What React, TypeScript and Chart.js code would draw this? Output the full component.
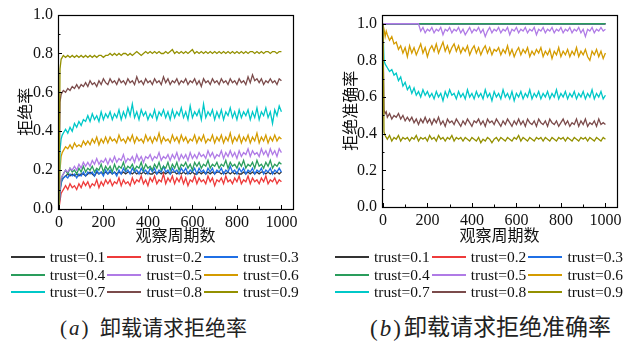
import React, { useEffect, useRef } from "react";
import { Chart, registerables } from "chart.js";

Chart.register(...registerables);

// ---- data ----
const PERIODS = [
  0, 5, 10, 15,
  20, 30, 40, 50, 60, 70, 80, 90, 100, 110,
  120, 130, 140, 150, 160, 170, 180, 190, 200, 210,
  220, 230, 240, 250, 260, 270, 280, 290, 300, 310,
  320, 330, 340, 350, 360, 370, 380, 390, 400, 410,
  420, 430, 440, 450, 460, 470, 480, 490, 500, 510,
  520, 530, 540, 550, 560, 570, 580, 590, 600, 610,
  620, 630, 640, 650, 660, 670, 680, 690, 700, 710,
  720, 730, 740, 750, 760, 770, 780, 790, 800, 810,
  820, 830, 840, 850, 860, 870, 880, 890, 900, 910,
  920, 930, 940, 950, 960, 970, 980, 990, 1000,
];

const LEGEND_LABELS = [
  "trust=0.1", "trust=0.2", "trust=0.3",
  "trust=0.4", "trust=0.5", "trust=0.6",
  "trust=0.7", "trust=0.8", "trust=0.9",
];

const X_TITLE = "观察周期数";
const Y_TITLE_A = "拒绝率";
const Y_TITLE_B = "拒绝准确率";
const CAPTION_A_TAG = "a";
const CAPTION_A = "卸载请求拒绝率";
const CAPTION_B_TAG = "b";
const CAPTION_B = "卸载请求拒绝准确率";

// (a) rejection rate
const REJ_T01 = [
  0, 0.10, 0.14, 0.15,
  0.16, 0.17, 0.18, 0.17, 0.18, 0.17, 0.18, 0.17, 0.18, 0.18,
  0.17, 0.18, 0.19, 0.18, 0.17, 0.19, 0.18, 0.19, 0.18, 0.19,
  0.18, 0.19, 0.18, 0.19, 0.18, 0.19, 0.18, 0.19, 0.18, 0.19,
  0.19, 0.18, 0.19, 0.18, 0.19, 0.18, 0.19, 0.18, 0.19, 0.18,
  0.18, 0.19, 0.18, 0.19, 0.18, 0.19, 0.18, 0.19, 0.18, 0.19,
  0.19, 0.18, 0.19, 0.18, 0.19, 0.18, 0.19, 0.18, 0.19, 0.18,
  0.18, 0.19, 0.18, 0.19, 0.18, 0.19, 0.18, 0.19, 0.18, 0.19,
  0.19, 0.18, 0.19, 0.18, 0.19, 0.18, 0.19, 0.18, 0.19, 0.18,
  0.18, 0.19, 0.18, 0.19, 0.18, 0.19, 0.18, 0.19, 0.18, 0.19,
  0.19, 0.18, 0.19, 0.18, 0.19, 0.18, 0.19, 0.18, 0.19,
];
const REJ_T02 = [
  0, 0.04, 0.08, 0.09,
  0.10, 0.12, 0.10, 0.13, 0.11, 0.12, 0.10, 0.13, 0.11, 0.14,
  0.12, 0.14, 0.11, 0.13, 0.12, 0.15, 0.11, 0.14, 0.12, 0.15,
  0.13, 0.15, 0.12, 0.14, 0.13, 0.16, 0.12, 0.15, 0.13, 0.14,
  0.12, 0.16, 0.13, 0.15, 0.14, 0.17, 0.13, 0.15, 0.12, 0.16,
  0.14, 0.17, 0.13, 0.15, 0.14, 0.18, 0.13, 0.16, 0.14, 0.17,
  0.13, 0.16, 0.14, 0.17, 0.13, 0.16, 0.12, 0.15, 0.14, 0.17,
  0.13, 0.16, 0.14, 0.15, 0.13, 0.17, 0.14, 0.16, 0.12, 0.15,
  0.14, 0.16, 0.13, 0.17, 0.14, 0.15, 0.13, 0.16, 0.14, 0.17,
  0.13, 0.15, 0.14, 0.17, 0.13, 0.16, 0.14, 0.15, 0.13, 0.16,
  0.14, 0.17, 0.13, 0.15, 0.14, 0.16, 0.13, 0.15, 0.14,
];
const REJ_T03 = [
  0, 0.08, 0.13, 0.15,
  0.16, 0.17, 0.16, 0.18, 0.17, 0.18, 0.16, 0.18, 0.17, 0.19,
  0.17, 0.19, 0.18, 0.19, 0.17, 0.20, 0.18, 0.19, 0.17, 0.20,
  0.18, 0.20, 0.18, 0.19, 0.17, 0.20, 0.18, 0.21, 0.19, 0.20,
  0.18, 0.21, 0.19, 0.20, 0.18, 0.21, 0.19, 0.20, 0.18, 0.21,
  0.19, 0.21, 0.18, 0.20, 0.19, 0.22, 0.19, 0.20, 0.18, 0.21,
  0.19, 0.20, 0.18, 0.21, 0.19, 0.21, 0.18, 0.20, 0.19, 0.21,
  0.18, 0.21, 0.19, 0.20, 0.18, 0.21, 0.19, 0.21, 0.18, 0.20,
  0.19, 0.21, 0.18, 0.20, 0.19, 0.22, 0.19, 0.20, 0.18, 0.21,
  0.19, 0.21, 0.18, 0.20, 0.19, 0.21, 0.18, 0.20, 0.19, 0.21,
  0.18, 0.20, 0.19, 0.21, 0.18, 0.20, 0.19, 0.21, 0.19,
];
const REJ_T04 = [
  0, 0.09, 0.15, 0.17,
  0.18, 0.20, 0.18, 0.21, 0.19, 0.20, 0.18, 0.21, 0.19, 0.22,
  0.19, 0.21, 0.20, 0.22, 0.19, 0.21, 0.20, 0.23, 0.19, 0.22,
  0.20, 0.22, 0.19, 0.23, 0.20, 0.22, 0.21, 0.24, 0.20, 0.22,
  0.21, 0.23, 0.20, 0.22, 0.21, 0.24, 0.20, 0.23, 0.21, 0.22,
  0.20, 0.23, 0.21, 0.24, 0.20, 0.22, 0.21, 0.24, 0.20, 0.23,
  0.21, 0.24, 0.20, 0.23, 0.22, 0.24, 0.21, 0.23, 0.20, 0.24,
  0.22, 0.24, 0.21, 0.23, 0.22, 0.25, 0.21, 0.23, 0.22, 0.24,
  0.21, 0.23, 0.22, 0.25, 0.21, 0.24, 0.22, 0.23, 0.21, 0.24,
  0.22, 0.25, 0.21, 0.23, 0.22, 0.24, 0.21, 0.25, 0.22, 0.23,
  0.21, 0.24, 0.22, 0.25, 0.21, 0.23, 0.22, 0.24, 0.23,
];
const REJ_T05 = [
  0, 0.11, 0.16, 0.17,
  0.18, 0.20, 0.19, 0.21, 0.20, 0.22, 0.20, 0.23, 0.21, 0.24,
  0.22, 0.24, 0.22, 0.25, 0.23, 0.26, 0.23, 0.25, 0.24, 0.26,
  0.23, 0.26, 0.24, 0.27, 0.24, 0.26, 0.25, 0.28, 0.24, 0.26,
  0.25, 0.27, 0.24, 0.28, 0.25, 0.27, 0.24, 0.27, 0.26, 0.28,
  0.25, 0.27, 0.26, 0.29, 0.25, 0.27, 0.26, 0.28, 0.25, 0.28,
  0.26, 0.29, 0.25, 0.28, 0.26, 0.28, 0.25, 0.29, 0.26, 0.28,
  0.26, 0.29, 0.27, 0.28, 0.26, 0.30, 0.27, 0.29, 0.26, 0.28,
  0.27, 0.30, 0.26, 0.29, 0.27, 0.30, 0.27, 0.29, 0.26, 0.30,
  0.27, 0.29, 0.28, 0.31, 0.27, 0.30, 0.28, 0.29, 0.27, 0.31,
  0.28, 0.30, 0.27, 0.31, 0.28, 0.30, 0.27, 0.31, 0.29,
];
const REJ_T06 = [
  0, 0.20, 0.27, 0.29,
  0.30, 0.32, 0.31, 0.33, 0.31, 0.34, 0.32, 0.33, 0.32, 0.35,
  0.33, 0.35, 0.33, 0.36, 0.34, 0.37, 0.33, 0.36, 0.34, 0.37,
  0.34, 0.37, 0.35, 0.36, 0.34, 0.38, 0.35, 0.36, 0.34, 0.37,
  0.35, 0.38, 0.34, 0.37, 0.35, 0.36, 0.34, 0.38, 0.35, 0.37,
  0.34, 0.37, 0.35, 0.39, 0.34, 0.37, 0.35, 0.36, 0.34, 0.38,
  0.35, 0.37, 0.34, 0.38, 0.35, 0.37, 0.34, 0.36, 0.35, 0.38,
  0.34, 0.37, 0.35, 0.38, 0.34, 0.36, 0.35, 0.38, 0.34, 0.37,
  0.35, 0.38, 0.34, 0.37, 0.35, 0.39, 0.34, 0.37, 0.35, 0.38,
  0.34, 0.37, 0.35, 0.38, 0.34, 0.37, 0.35, 0.39, 0.34, 0.37,
  0.35, 0.38, 0.34, 0.37, 0.35, 0.38, 0.35, 0.37, 0.36,
];
const REJ_T07 = [
  0, 0.30, 0.36, 0.38,
  0.39, 0.41, 0.39, 0.42, 0.40, 0.44, 0.42, 0.45, 0.43, 0.46,
  0.45, 0.48, 0.45, 0.49, 0.46, 0.48, 0.45, 0.50, 0.46, 0.49,
  0.47, 0.50, 0.46, 0.49, 0.47, 0.51, 0.46, 0.50, 0.47, 0.52,
  0.48, 0.54, 0.47, 0.50, 0.46, 0.51, 0.48, 0.50, 0.46, 0.49,
  0.47, 0.51, 0.46, 0.50, 0.48, 0.51, 0.47, 0.50, 0.46, 0.51,
  0.47, 0.50, 0.48, 0.52, 0.47, 0.50, 0.46, 0.53, 0.47, 0.50,
  0.48, 0.51, 0.46, 0.54, 0.47, 0.50, 0.48, 0.51, 0.46, 0.50,
  0.47, 0.51, 0.46, 0.50, 0.48, 0.52, 0.47, 0.50, 0.46, 0.51,
  0.47, 0.50, 0.48, 0.51, 0.46, 0.50, 0.47, 0.52, 0.46, 0.50,
  0.48, 0.52, 0.47, 0.50, 0.44, 0.51, 0.48, 0.53, 0.50,
];
const REJ_T08 = [
  0, 0.55, 0.59, 0.60,
  0.61, 0.60, 0.62, 0.61, 0.63, 0.62, 0.64, 0.62, 0.64, 0.63,
  0.65, 0.63, 0.66, 0.64, 0.65, 0.63, 0.66, 0.64, 0.67, 0.65,
  0.64, 0.67, 0.65, 0.66, 0.64, 0.67, 0.65, 0.66, 0.64, 0.67,
  0.65, 0.66, 0.64, 0.68, 0.65, 0.66, 0.64, 0.67, 0.65, 0.66,
  0.64, 0.67, 0.65, 0.66, 0.64, 0.68, 0.65, 0.67, 0.64, 0.66,
  0.65, 0.67, 0.64, 0.66, 0.65, 0.67, 0.64, 0.66, 0.65, 0.67,
  0.64, 0.66, 0.63, 0.67, 0.65, 0.66, 0.64, 0.67, 0.65, 0.66,
  0.64, 0.67, 0.65, 0.66, 0.64, 0.67, 0.65, 0.66, 0.64, 0.67,
  0.65, 0.66, 0.64, 0.68, 0.65, 0.69, 0.66, 0.67, 0.65, 0.67,
  0.64, 0.66, 0.65, 0.67, 0.65, 0.66, 0.64, 0.67, 0.66,
];
const REJ_T09 = [
  0, 0.72, 0.77, 0.78,
  0.79, 0.78, 0.79, 0.78, 0.79, 0.78, 0.79, 0.78, 0.79, 0.78,
  0.79, 0.78, 0.79, 0.78, 0.79, 0.78, 0.79, 0.79, 0.78, 0.79,
  0.79, 0.80, 0.79, 0.80, 0.79, 0.80, 0.79, 0.80, 0.80, 0.79,
  0.80, 0.79, 0.80, 0.81, 0.80, 0.79, 0.80, 0.81, 0.80, 0.81,
  0.80, 0.81, 0.80, 0.81, 0.80, 0.80, 0.81, 0.80, 0.81, 0.82,
  0.80, 0.81, 0.80, 0.81, 0.80, 0.81, 0.80, 0.81, 0.82, 0.80,
  0.81, 0.80, 0.81, 0.80, 0.81, 0.80, 0.81, 0.80, 0.81, 0.80,
  0.81, 0.80, 0.81, 0.80, 0.81, 0.80, 0.81, 0.80, 0.81, 0.80,
  0.81, 0.80, 0.81, 0.80, 0.81, 0.81, 0.80, 0.81, 0.80, 0.81,
  0.80, 0.81, 0.81, 0.80, 0.81, 0.81, 0.80, 0.81, 0.81,
];

// (b) rejection accuracy
const ACC_T01 = [
  1, 1, 1, 1,
  1, 1, 1, 1, 1, 1, 1, 1, 1, 1,
  1, 1, 1, 1, 1, 1, 1, 1, 1, 1,
  1, 1, 1, 1, 1, 1, 1, 1, 1, 1,
  1, 1, 1, 1, 1, 1, 1, 1, 1, 1,
  1, 1, 1, 1, 1, 1, 1, 1, 1, 1,
  1, 1, 1, 1, 1, 1, 1, 1, 1, 1,
  1, 1, 1, 1, 1, 1, 1, 1, 1, 1,
  1, 1, 1, 1, 1, 1, 1, 1, 1, 1,
  1, 1, 1, 1, 1, 1, 1, 1, 1, 1,
  1, 1, 1, 1, 1, 1, 1, 1, 1,
];
const ACC_T02 = [
  1, 1, 1, 1,
  1, 1, 1, 1, 1, 1, 1, 1, 1, 1,
  1, 1, 1, 1, 1, 1, 1, 1, 1, 1,
  1, 1, 1, 1, 1, 1, 1, 1, 1, 1,
  1, 1, 1, 1, 1, 1, 1, 1, 1, 1,
  1, 1, 1, 1, 1, 1, 1, 1, 1, 1,
  1, 1, 1, 1, 1, 1, 1, 1, 1, 1,
  1, 1, 1, 1, 1, 1, 1, 1, 1, 1,
  1, 1, 1, 1, 1, 1, 1, 1, 1, 1,
  1, 1, 1, 1, 1, 1, 1, 1, 1, 1,
  1, 1, 1, 1, 1, 1, 1, 1, 1,
];
const ACC_T03 = [
  1, 1, 1, 1,
  1, 1, 1, 1, 1, 1, 1, 1, 1, 1,
  1, 1, 1, 1, 1, 1, 1, 1, 1, 1,
  1, 1, 1, 1, 1, 1, 1, 1, 1, 1,
  1, 1, 1, 1, 1, 1, 1, 1, 1, 1,
  1, 1, 1, 1, 1, 1, 1, 1, 1, 1,
  1, 1, 1, 1, 1, 1, 1, 1, 1, 1,
  1, 1, 1, 1, 1, 1, 1, 1, 1, 1,
  1, 1, 1, 1, 1, 1, 1, 1, 1, 1,
  1, 1, 1, 1, 1, 1, 1, 1, 1, 1,
  1, 1, 1, 1, 1, 1, 1, 1, 1,
];
const ACC_T04 = [
  1, 1, 1, 1,
  1, 1, 1, 1, 1, 1, 1, 1, 1, 1,
  1, 1, 1, 1, 1, 1, 1, 1, 1, 1,
  1, 1, 1, 1, 1, 1, 1, 1, 1, 1,
  1, 1, 1, 1, 1, 1, 1, 1, 1, 1,
  1, 1, 1, 1, 1, 1, 1, 1, 1, 1,
  1, 1, 1, 1, 1, 1, 1, 1, 1, 1,
  1, 1, 1, 1, 1, 1, 1, 1, 1, 1,
  1, 1, 1, 1, 1, 1, 1, 1, 1, 1,
  1, 1, 1, 1, 1, 1, 1, 1, 1, 1,
  1, 1, 1, 1, 1, 1, 1, 1, 1,
];
const ACC_T05 = [
  1, 1, 1, 1,
  1, 1, 1, 1, 1, 1, 1, 1, 1, 1,
  1, 1, 1, 1, 1, 0.96, 0.98, 0.95, 0.97, 0.96,
  0.98, 0.95, 0.97, 0.96, 0.98, 0.94, 0.97, 0.96, 0.98, 0.95,
  0.97, 0.96, 0.98, 0.95, 0.97, 0.94, 0.96, 0.98, 0.95, 0.97,
  0.96, 0.98, 0.95, 0.97, 0.93, 0.96, 0.98, 0.95, 0.97, 0.96,
  0.98, 0.95, 0.97, 0.96, 0.98, 0.94, 0.97, 0.96, 0.98, 0.95,
  0.97, 0.96, 0.98, 0.95, 0.97, 0.96, 0.98, 0.94, 0.97, 0.96,
  0.98, 0.95, 0.97, 0.96, 0.98, 0.95, 0.97, 0.96, 0.98, 0.95,
  0.97, 0.96, 0.98, 0.95, 0.97, 0.96, 0.98, 0.95, 0.97, 0.93,
  0.97, 0.96, 0.98, 0.95, 0.97, 0.96, 0.98, 0.96, 0.97,
];
const ACC_T06 = [
  1.0, 0.97, 0.93, 0.96,
  0.94, 0.91, 0.93, 0.89, 0.90, 0.86, 0.88, 0.84, 0.87, 0.82,
  0.88, 0.84, 0.87, 0.83, 0.86, 0.89, 0.84, 0.87, 0.82, 0.86,
  0.88, 0.85, 0.89, 0.84, 0.87, 0.90, 0.85, 0.88, 0.84, 0.87,
  0.89, 0.85, 0.88, 0.84, 0.87, 0.85, 0.88, 0.83, 0.86, 0.88,
  0.84, 0.87, 0.83, 0.86, 0.88, 0.84, 0.87, 0.83, 0.86, 0.85,
  0.87, 0.83, 0.86, 0.84, 0.88, 0.83, 0.86, 0.82, 0.85, 0.87,
  0.83, 0.86, 0.84, 0.87, 0.82, 0.85, 0.83, 0.86, 0.84, 0.87,
  0.82, 0.85, 0.83, 0.86, 0.81, 0.85, 0.83, 0.87, 0.82, 0.85,
  0.83, 0.86, 0.82, 0.85, 0.83, 0.87, 0.82, 0.85, 0.83, 0.86,
  0.82, 0.80, 0.85, 0.83, 0.86, 0.82, 0.85, 0.81, 0.84,
];
const ACC_T07 = [
  1.0, 0.80, 0.78, 0.77,
  0.76, 0.74, 0.75, 0.72, 0.73, 0.69, 0.71, 0.66, 0.68, 0.64,
  0.66, 0.62, 0.65, 0.61, 0.63, 0.60, 0.64, 0.61, 0.63, 0.60,
  0.62, 0.59, 0.63, 0.60, 0.62, 0.58, 0.63, 0.60, 0.64, 0.61,
  0.62, 0.59, 0.63, 0.60, 0.62, 0.59, 0.64, 0.60, 0.62, 0.59,
  0.63, 0.60, 0.62, 0.59, 0.64, 0.60, 0.62, 0.58, 0.63, 0.60,
  0.62, 0.59, 0.64, 0.60, 0.62, 0.59, 0.63, 0.58, 0.62, 0.60,
  0.63, 0.59, 0.62, 0.60, 0.64, 0.59, 0.62, 0.60, 0.63, 0.59,
  0.62, 0.60, 0.63, 0.59, 0.62, 0.60, 0.64, 0.59, 0.62, 0.60,
  0.63, 0.59, 0.62, 0.60, 0.63, 0.59, 0.62, 0.60, 0.63, 0.59,
  0.62, 0.60, 0.64, 0.59, 0.62, 0.60, 0.63, 0.59, 0.61,
];
const ACC_T08 = [
  1.0, 0.53, 0.51, 0.52,
  0.49, 0.51, 0.48, 0.50, 0.49, 0.51, 0.48, 0.50, 0.47, 0.49,
  0.47, 0.49, 0.46, 0.48, 0.45, 0.48, 0.46, 0.49, 0.46, 0.48,
  0.45, 0.48, 0.46, 0.49, 0.45, 0.47, 0.44, 0.48, 0.46, 0.47,
  0.45, 0.48, 0.46, 0.44, 0.47, 0.45, 0.48, 0.46, 0.44, 0.47,
  0.46, 0.48, 0.45, 0.47, 0.44, 0.48, 0.46, 0.47, 0.45, 0.48,
  0.46, 0.44, 0.47, 0.45, 0.48, 0.46, 0.44, 0.47, 0.45, 0.48,
  0.45, 0.47, 0.44, 0.48, 0.46, 0.45, 0.47, 0.44, 0.48, 0.46,
  0.45, 0.47, 0.44, 0.48, 0.46, 0.45, 0.47, 0.44, 0.46, 0.48,
  0.45, 0.47, 0.44, 0.46, 0.45, 0.48, 0.44, 0.47, 0.45, 0.48,
  0.44, 0.46, 0.45, 0.47, 0.44, 0.48, 0.45, 0.46, 0.45,
];
const ACC_T09 = [
  1.0, 0.41, 0.39, 0.38,
  0.37, 0.39, 0.36, 0.38, 0.37, 0.39, 0.36, 0.38, 0.37, 0.38,
  0.36, 0.38, 0.37, 0.39, 0.36, 0.38, 0.37, 0.38, 0.36, 0.39,
  0.37, 0.38, 0.36, 0.39, 0.37, 0.38, 0.36, 0.38, 0.37, 0.39,
  0.36, 0.38, 0.37, 0.38, 0.36, 0.38, 0.37, 0.36, 0.38, 0.37,
  0.36, 0.38, 0.35, 0.37, 0.36, 0.38, 0.37, 0.35, 0.37, 0.38,
  0.36, 0.38, 0.37, 0.36, 0.38, 0.37, 0.36, 0.38, 0.37, 0.39,
  0.36, 0.38, 0.37, 0.36, 0.38, 0.37, 0.36, 0.38, 0.37, 0.38,
  0.36, 0.38, 0.37, 0.36, 0.38, 0.37, 0.36, 0.38, 0.37, 0.38,
  0.36, 0.38, 0.37, 0.36, 0.38, 0.37, 0.36, 0.38, 0.37, 0.38,
  0.36, 0.38, 0.37, 0.36, 0.38, 0.37, 0.36, 0.38, 0.37,
];

const REJ_SERIES = [REJ_T01, REJ_T02, REJ_T03, REJ_T04, REJ_T05, REJ_T06, REJ_T07, REJ_T08, REJ_T09];
const ACC_SERIES = [ACC_T01, ACC_T02, ACC_T03, ACC_T04, ACC_T05, ACC_T06, ACC_T07, ACC_T08, ACC_T09];

// ---- styles ----
const COLORS = [
  "#333333", "#ee3b3b", "#1f6fe5",
  "#2a9d5c", "#b07be6", "#d49b00",
  "#00c8c8", "#7b4b4b", "#939000",
];
const SERIF = '"Liberation Serif", "Times New Roman", serif';
const CJK = '"Liberation Serif", "Noto Sans CJK SC", sans-serif';

const frameTicksPlugin = {
  id: "frameTicks",
  afterDatasetsDraw(chart: any) {
    const { ctx, chartArea: a } = chart;
    const xs = chart.scales.x;
    const ys = chart.scales.y;
    ctx.save();
    ctx.strokeStyle = "#000";
    ctx.lineWidth = 1;
    ctx.beginPath();
    const xt = xs.ticks.map((t: any) => t.value);
    xt.forEach((v: number, i: number) => {
      const p = Math.round(xs.getPixelForValue(v)) + 0.5;
      ctx.moveTo(p, a.bottom);
      ctx.lineTo(p, a.bottom - 4);
      if (i < xt.length - 1) {
        const m = Math.round(xs.getPixelForValue((v + xt[i + 1]) / 2)) + 0.5;
        ctx.moveTo(m, a.bottom);
        ctx.lineTo(m, a.bottom - 2.5);
      }
    });
    const yt = ys.ticks.map((t: any) => t.value);
    yt.forEach((v: number, i: number) => {
      const p = Math.round(ys.getPixelForValue(v)) + 0.5;
      ctx.moveTo(a.left, p);
      ctx.lineTo(a.left + 4, p);
      if (i < yt.length - 1) {
        const m = Math.round(ys.getPixelForValue((v + yt[i + 1]) / 2)) + 0.5;
        ctx.moveTo(a.left, m);
        ctx.lineTo(a.left + 2.5, m);
      }
    });
    ctx.stroke();
    ctx.lineWidth = 1.2;
    ctx.strokeRect(
      Math.round(a.left) + 0.5,
      Math.round(a.top) + 0.5,
      Math.round(a.right - a.left),
      Math.round(a.bottom - a.top)
    );
    ctx.restore();
  },
};

type Opts = {
  yTitle: string;
  yMax: number;
  yAxisWidth: number;
  xAxisHeight: number;
  padRight: number;
  yTitlePad: number;
};

function buildChart(canvas: HTMLCanvasElement, series: number[][], o: Opts) {
  return new Chart(canvas, {
    type: "line",
    data: {
      datasets: series.map((s, i) => ({
        label: LEGEND_LABELS[i],
        data: PERIODS.map((p, j) => ({ x: p, y: s[j] })),
        borderColor: COLORS[i],
        backgroundColor: COLORS[i],
        borderWidth: 1.3,
        pointRadius: 0,
        tension: 0,
        order: series.length - i,
      })),
    },
    options: {
      responsive: false,
      animation: false,
      events: [],
      layout: { padding: { left: 0, top: 14, right: o.padRight, bottom: 0 } },
      plugins: { legend: { display: false }, tooltip: { enabled: false } },
      scales: {
        x: {
          type: "linear",
          min: -4,
          max: 1052,
          afterFit: (s: any) => {
            s.height = o.xAxisHeight;
          },
          grid: { display: false, drawTicks: false },
          border: { display: false },
          ticks: {
            stepSize: 200,
            includeBounds: false,
            padding: 4,
            color: "#111",
            maxRotation: 0,
            autoSkip: false,
            font: { family: SERIF, size: 16 },
            callback: (v: any) => String(Math.round(Number(v))),
          },
          title: {
            display: true,
            text: X_TITLE,
            color: "#111",
            font: { family: CJK, size: 16 },
            padding: { top: 0, bottom: 4 },
          },
        },
        y: {
          type: "linear",
          min: 0,
          max: o.yMax,
          afterFit: (s: any) => {
            s.width = o.yAxisWidth;
          },
          grid: { display: false, drawTicks: false },
          border: { display: false },
          ticks: {
            stepSize: 0.2,
            includeBounds: false,
            padding: 5,
            color: "#111",
            autoSkip: false,
            font: { family: SERIF, size: 16 },
            callback: (v: any) => Number(v).toFixed(1),
          },
          title: {
            display: true,
            text: o.yTitle,
            color: "#111",
            font: { family: CJK, size: 16 },
            padding: { top: o.yTitlePad, bottom: 0 },
          },
        },
      },
    } as any,
    plugins: [frameTicksPlugin],
  });
}

function ChartCanvas({ series, opts, left }: { series: number[][]; opts: Opts; left: number }) {
  const ref = useRef<HTMLCanvasElement | null>(null);
  useEffect(() => {
    if (!ref.current) return;
    const c = buildChart(ref.current, series, opts);
    let alive = true;
    const fonts: any = (document as any).fonts;
    if (fonts && fonts.load) {
      Promise.all([
        fonts.load('16px "Liberation Serif"'),
        fonts.load('16px "Noto Sans CJK SC"', "观察周期数拒绝率准确"),
      ])
        .then(() => {
          if (alive) c.update();
        })
        .catch(() => {});
    }
    return () => {
      alive = false;
      c.destroy();
    };
  }, []);
  return (
    <canvas
      ref={ref}
      width={315}
      height={250}
      style={{ position: "absolute", left, top: 0, width: 315, height: 250 }}
    />
  );
}

function Legend({ left }: { left: number }) {
  return (
    <>
      {LEGEND_LABELS.map((lab, i) => {
        const col = i % 3;
        const row = Math.floor(i / 3);
        return (
          <div
            key={i}
            style={{
              position: "absolute",
              left: left + col * 96.7,
              top: 248 + row * 17.5,
              height: 18,
              display: "flex",
              alignItems: "center",
              whiteSpace: "nowrap",
            }}
          >
            <span
              style={{
                display: "inline-block",
                width: 34,
                height: 2,
                background: COLORS[i],
                marginRight: 5,
              }}
            />
            <span style={{ font: `15.5px ${SERIF}`, color: "#111", lineHeight: "18px" }}>{lab}</span>
          </div>
        );
      })}
    </>
  );
}

function Caption({ tag, text, tagLeft, textLeft, size }: { tag: string; text: string; tagLeft: number; textLeft: number; size: number }) {
  return (
    <>
      <div
        style={{
          position: "absolute",
          left: tagLeft,
          top: 316,
          height: 24,
          lineHeight: "24px",
          font: `${size}px ${SERIF}`,
          color: "#222",
          letterSpacing: 2,
          whiteSpace: "nowrap",
        }}
      >
        (<i>{tag}</i>)
      </div>
      <div
        style={{
          position: "absolute",
          left: textLeft,
          top: 316,
          height: 24,
          lineHeight: "24px",
          fontFamily: CJK,
          fontSize: size,
          color: "#222",
          whiteSpace: "nowrap",
        }}
      >
        {text}
      </div>
    </>
  );
}

export default function App() {
  return (
    <div
      style={{
        position: "fixed",
        left: 0,
        top: 0,
        width: 630,
        height: 341,
        background: "#fff",
        overflow: "hidden",
      }}
    >
      <ChartCanvas
        series={REJ_SERIES}
        left={0}
        opts={{ yTitle: Y_TITLE_A, yMax: 1.0, yAxisWidth: 58, xAxisHeight: 41, padRight: 22, yTitlePad: 17 }}
      />
      <ChartCanvas
        series={ACC_SERIES}
        left={315}
        opts={{ yTitle: Y_TITLE_B, yMax: 1.05, yAxisWidth: 67, xAxisHeight: 43, padRight: 13, yTitlePad: 27 }}
      />
      <Legend left={10.7} />
      <Legend left={335} />
      <Caption tag={CAPTION_A_TAG} text={CAPTION_A} tagLeft={60} textLeft={100} size={21} />
      <Caption tag={CAPTION_B_TAG} text={CAPTION_B} tagLeft={370} textLeft={404} size={23} />
    </div>
  );
}
